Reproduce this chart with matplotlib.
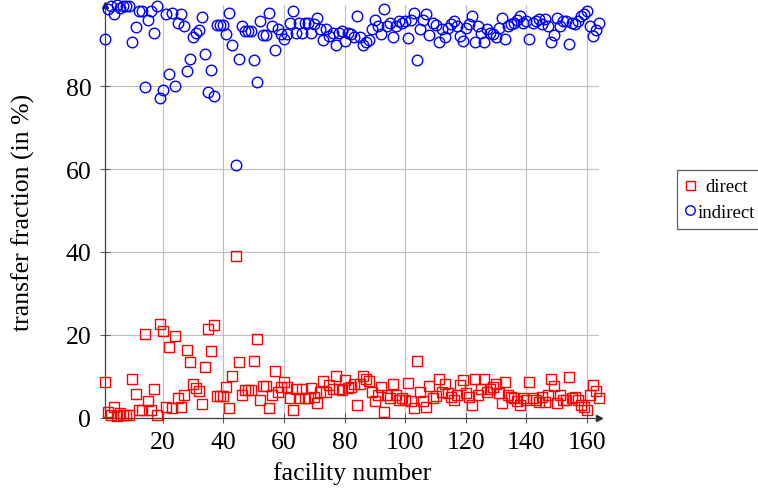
import matplotlib
matplotlib.use("Agg")
import matplotlib.pyplot as plt
import numpy as np

plt.rcParams['font.family'] = ['Liberation Serif', 'DejaVu Serif']

# facility numbers and transfer fractions (in %)
facility = np.arange(1, 165)

direct = [
    8.6, 1.4, 0.7, 2.6, 0.4, 1.0, 0.7, 0.7, 0.6, 9.2,
    5.6, 1.8, 1.9, 20.2, 4.0, 1.8, 7.0, 0.7, 22.7, 20.8,
    2.6, 17.0, 2.2, 19.8, 4.6, 2.6, 5.4, 16.2, 13.3, 8.2,
    7.2, 6.3, 3.3, 12.2, 21.4, 16.0, 22.4, 5.1, 5.1, 5.3,
    7.4, 2.3, 10.0, 39.0, 13.3, 5.5, 6.6, 6.6, 6.6, 13.7,
    18.9, 4.2, 7.6, 7.6, 2.2, 5.4, 11.2, 6.2, 7.4, 8.6,
    7.4, 4.6, 1.8, 7.0, 4.6, 7.0, 4.6, 4.6, 7.2, 5.0,
    3.6, 6.2, 8.7, 6.2, 7.8, 7.0, 10.0, 7.0, 6.6, 9.0,
    7.2, 7.4, 8.2, 3.1, 8.2, 10.0, 9.4, 8.7, 6.2, 3.9,
    5.5, 7.4, 1.4, 5.4, 4.8, 8.2, 5.4, 4.2, 4.6, 4.2,
    8.4, 3.9, 2.2, 13.6, 6.2, 3.9, 2.6, 7.6, 4.6, 5.1,
    9.2, 6.2, 8.0, 5.8, 5.0, 4.2, 5.4, 7.8, 9.0, 5.8,
    5.0, 3.0, 9.4, 5.4, 7.0, 9.4, 6.2, 7.0, 7.4, 8.2,
    5.8, 3.4, 8.6, 5.4, 5.0, 4.6, 4.0, 3.1, 4.6, 4.2,
    8.6, 4.6, 4.2, 3.8, 5.0, 3.8, 5.4, 9.2, 7.6, 3.4,
    5.4, 4.2, 4.2, 9.8, 4.6, 5.0, 4.2, 3.0, 2.6, 1.8,
    5.4, 7.8, 6.3, 4.6,
]

indirect = [
    91.4, 98.6, 99.3, 97.4, 99.6, 99.0, 99.3, 99.3, 99.4, 90.8,
    94.4, 98.2, 98.1, 79.8, 96.0, 98.2, 93.0, 99.3, 77.3, 79.2,
    97.4, 83.0, 97.8, 80.2, 95.4, 97.4, 94.6, 83.8, 86.7, 91.8,
    92.8, 93.7, 96.7, 87.8, 78.6, 84.0, 77.6, 94.9, 94.9, 94.7,
    92.6, 97.7, 90.0, 61.0, 86.7, 94.5, 93.4, 93.4, 93.4, 86.3,
    81.1, 95.8, 92.4, 92.4, 97.8, 94.6, 88.8, 93.8, 92.6, 91.4,
    92.6, 95.4, 98.2, 93.0, 95.4, 93.0, 95.4, 95.4, 92.8, 95.0,
    96.4, 93.8, 91.3, 93.8, 92.2, 93.0, 90.0, 93.0, 93.4, 91.0,
    92.8, 92.6, 91.8, 96.9, 91.8, 90.0, 90.6, 91.3, 93.8, 96.1,
    94.5, 92.6, 98.6, 94.6, 95.2, 91.8, 94.6, 95.8, 95.4, 95.8,
    91.6, 96.1, 97.8, 86.4, 93.8, 96.1, 97.4, 92.4, 95.4, 94.9,
    90.8, 93.8, 92.0, 94.2, 95.0, 95.8, 94.6, 92.2, 91.0, 94.2,
    95.0, 97.0, 90.6, 94.6, 93.0, 90.6, 93.8, 93.0, 92.6, 91.8,
    94.2, 96.6, 91.4, 94.6, 95.0, 95.4, 96.0, 96.9, 95.4, 95.8,
    91.4, 95.4, 95.8, 96.2, 95.0, 96.2, 94.6, 90.8, 92.4, 96.6,
    94.6, 95.8, 95.8, 90.2, 95.4, 95.0, 95.8, 97.0, 97.4, 98.2,
    94.6, 92.2, 93.7, 95.4,
]

xticks = [20, 40, 60, 80, 100, 120, 140, 160]
yticks = [0, 20, 40, 60, 80]

fig = plt.figure(figsize=(7.58, 4.89), dpi=100)
ax = fig.add_axes([105.2 / 758, 70.5 / 489, 494.0 / 758, 412.3 / 489])

ax.plot(facility, direct, 's', mfc='none', mec='red', ms=7.2, mew=1.0,
        clip_on=False, zorder=3, label='direct')
ax.plot(facility, indirect, 'o', mfc='none', mec='blue', ms=7.6, mew=1.0,
        clip_on=False, zorder=3, label='indirect')

ax.set_xlim(1, 164)
ax.set_ylim(0, 99.6)
ax.set_xticks(xticks)
ax.set_yticks(yticks)
ax.grid(True, color='0.75', linewidth=0.8, zorder=0)
ax.set_axisbelow(True)

for s in ['top', 'right']:
    ax.spines[s].set_visible(False)
for s in ['left', 'bottom']:
    ax.spines[s].set_color('0.25')
    ax.spines[s].set_linewidth(0.9)

# arrow heads at the axis ends
ax.plot(1, 0, marker='>', color='0.15', ms=5, transform=ax.transAxes, clip_on=False)
ax.plot(0, 1, marker='^', color='0.15', ms=5, transform=ax.transAxes, clip_on=False)

ax.tick_params(direction='inout', length=7, width=0.8, color='0.35',
               labelsize=18.5, pad=6.5)

ax.set_xlabel('facility number', fontsize=18.5)
ax.set_ylabel('transfer fraction (in %)', fontsize=18.5)
ax.xaxis.set_label_coords(0.5, -(462 - 418.5) / 412.3)
ax.yaxis.set_label_coords(-(105.2 - 35) / 494.0, 0.5)

leg = fig.legend(loc='upper left', bbox_to_anchor=(677 / 758, 1 - 170.5 / 489),
                 fontsize=13.5, frameon=True, fancybox=False, markerscale=0.9,
                 handlelength=0.5, handletextpad=0.15, borderpad=0.45,
                 labelspacing=0.45, borderaxespad=0)
leg.get_frame().set_edgecolor('0.2')
leg.get_frame().set_linewidth(0.9)

# centre the legend entries like the original
fig.canvas.draw()
renderer = fig.canvas.get_renderer()
texts = leg.get_texts()
widths = [t.get_window_extent(renderer).width for t in texts]
wmax = max(widths)
for t, w in zip(texts, widths):
    t.set_x((wmax - w) / 2)

fig.savefig('out.png', dpi=100)
